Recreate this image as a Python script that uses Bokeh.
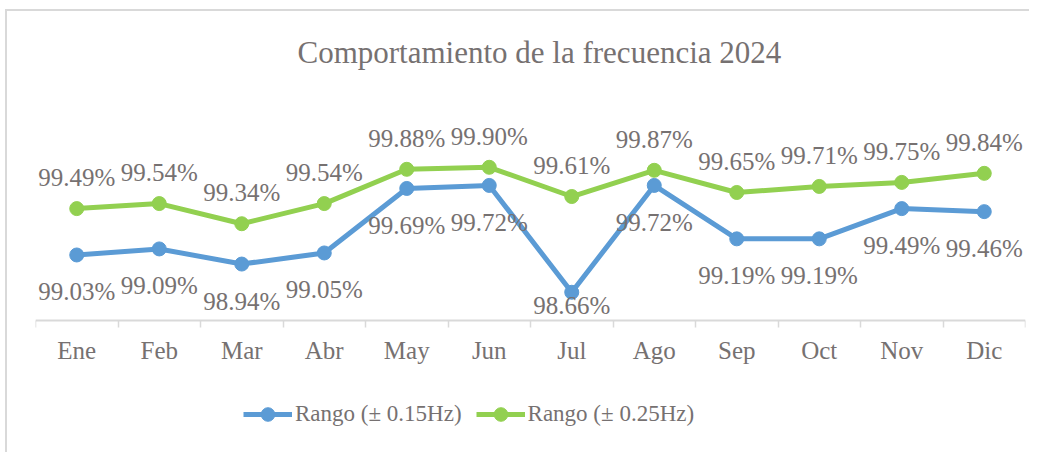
import numpy as np
from bokeh.plotting import figure
from bokeh.models import (Range1d, FixedTicker, Legend, LegendItem, ColumnDataSource,
                          LinearAxis, Title)
from bokeh.core.properties import value
from bokeh.embed import file_html
from bokeh.resources import INLINE

months = ["Ene", "Feb", "Mar", "Abr", "May", "Jun", "Jul", "Ago", "Sep", "Oct", "Nov", "Dic"]
rango_015 = [99.03, 99.09, 98.94, 99.05, 99.69, 99.72, 98.66, 99.72, 99.19, 99.19, 99.49, 99.46]
rango_025 = [99.49, 99.54, 99.34, 99.54, 99.88, 99.90, 99.61, 99.87, 99.65, 99.71, 99.75, 99.84]
series_names = ["Rango (\u00b1 0.15Hz)", "Rango (\u00b1 0.25Hz)"]
title_text = "Comportamiento de la frecuencia 2024"

BLUE = "#5B9BD5"
GREEN = "#92D050"
GRAY = "#767171"
AXIS = "#D9D9D9"
FONT = "Liberation Serif"

W, H = 1024, 443
MB_L, MB_R, MB_T, MB_B = 28, 6, 69, 10
AX_VAL = 98.38            # value where the category axis sits
PPU = 100.8               # pixels per percentage point
frame_h = H - MB_T - MB_B
Y1 = AX_VAL + 240 / PPU
Y0 = Y1 - frame_h / PPU

x = np.arange(1, len(months) + 1)
b = np.array(rango_015)
g = np.array(rango_025)
# labels: green above, blue below (kept above the axis like Excel)
b_lbl_y = np.maximum(b - 37 / PPU, AX_VAL + 15 / PPU)
g_lbl_y = g + 31 / PPU

src = ColumnDataSource(dict(
    x=x, b=b, g=g, b_lbl_y=b_lbl_y, g_lbl_y=g_lbl_y,
    b_lbl=[f"{v:.2f}%" for v in b], g_lbl=[f"{v:.2f}%" for v in g],
))

p = figure(width=W, height=H, output_backend="svg", toolbar_location=None,
           x_range=Range1d(0.5, len(months) + 0.5), y_range=Range1d(Y0, Y1),
           x_axis_location=None, y_axis_location=None,
           min_border_left=MB_L, min_border_right=MB_R,
           min_border_top=MB_T, min_border_bottom=MB_B)
p.grid.visible = False
p.outline_line_color = None
p.background_fill_color = "white"
p.border_fill_color = "white"
p.styles = {"border-left": "2px solid #D9D9D9", "border-top": "2px solid #D9D9D9",
            "margin-left": "5px", "margin-top": "9px"}

xaxis = LinearAxis(
    ticker=FixedTicker(ticks=list(x), minor_ticks=list(np.arange(0.5, len(months) + 1, 1.0))),
    major_label_overrides={int(i): m for i, m in zip(x, months)},
    fixed_location=AX_VAL,
)
xaxis.axis_line_color = AXIS
xaxis.axis_line_width = 2
xaxis.major_tick_line_color = None
xaxis.major_tick_out = 0
xaxis.major_tick_in = 0
xaxis.minor_tick_line_color = AXIS
xaxis.minor_tick_line_width = 1.5
xaxis.minor_tick_out = 7
xaxis.minor_tick_in = 0
xaxis.major_label_standoff = 9
xaxis.major_label_text_font = FONT
xaxis.major_label_text_font_size = "25px"
xaxis.major_label_text_color = GRAY
p.add_layout(xaxis, "below")

l1 = p.line("x", "b", source=src, line_color=BLUE, line_width=5)
s1 = p.scatter("x", "b", source=src, size=14, fill_color=BLUE, line_color=BLUE)
l2 = p.line("x", "g", source=src, line_color=GREEN, line_width=5)
s2 = p.scatter("x", "g", source=src, size=14, fill_color=GREEN, line_color=GREEN)

common = dict(source=src, text_align="center", text_baseline="alphabetic",
              text_font=value(FONT), text_font_size="25px", text_color=GRAY)
p.text(x="x", y="b_lbl_y", text="b_lbl", **common)
p.text(x="x", y="g_lbl_y", text="g_lbl", **common)

legend = Legend(items=[LegendItem(label=series_names[0], renderers=[l1, s1]),
                       LegendItem(label=series_names[1], renderers=[l2, s2])],
                orientation="horizontal", location=(208, 13),
                glyph_width=49, glyph_height=34, label_standoff=3, spacing=14,
                padding=0, margin=0, border_line_color=None, background_fill_alpha=0,
                label_text_font=FONT, label_text_font_size="23px",
                label_text_color=GRAY, label_height=20)
p.add_layout(legend, "center")

p.title = Title(text=title_text, align="left", offset=262, standoff=21,
                text_font=FONT, text_font_size="31px", text_color=GRAY,
                text_font_style="normal")

open("out.html", "w").write(file_html(p, INLINE))
